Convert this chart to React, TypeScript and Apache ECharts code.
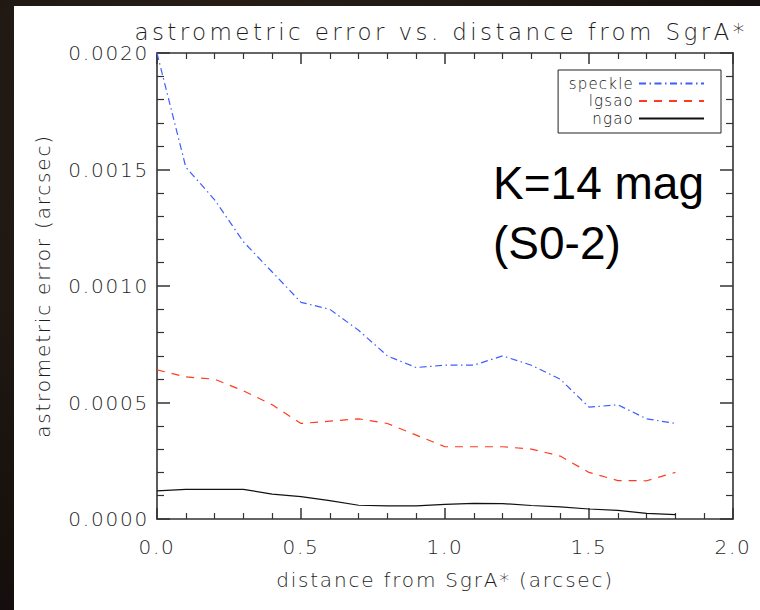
import React, { useEffect, useRef } from "react";
import * as echarts from "echarts";

// ---- data ----
const distances = [0, 0.1, 0.2, 0.3, 0.4, 0.5, 0.6, 0.7, 0.8, 0.9, 1.0, 1.1, 1.2, 1.3, 1.4, 1.5, 1.6, 1.7, 1.8];
const speckle = [0.002, 0.00151, 0.00137, 0.00119, 0.00106, 0.00093, 0.0009, 0.00081, 0.0007, 0.00065, 0.00066, 0.00066, 0.0007, 0.00066, 0.0006, 0.00048, 0.00049, 0.00043, 0.00041];
const lgsao = [0.00064, 0.00061, 0.0006, 0.00055, 0.00049, 0.00041, 0.00042, 0.00043, 0.00041, 0.00036, 0.00031, 0.00031, 0.00031, 0.0003, 0.00027, 0.0002, 0.000165, 0.000164, 0.0002];
const ngao = [0.000121, 0.000127, 0.000127, 0.000127, 0.000107, 0.000096, 0.000079, 0.000059, 0.000056, 0.000056, 0.000063, 0.000067, 0.000066, 0.000058, 0.000052, 0.000043, 0.000037, 0.000024, 0.000019];
const seriesNames = ["speckle", "lgsao", "ngao"];
const xTicks = { min: 0, max: 2, interval: 0.5 };
const yTicks = { min: 0, max: 0.002, interval: 0.0005 };
const titleText = "astrometric error vs. distance from SgrA*";
const xName = "distance from SgrA* (arcsec)";
const yName = "astrometric error (arcsec)";
const noteLines = ["K=14 mag", "(S0-2)"];

const FONT = "DejaVu Sans";
const AX = "#333333";
const TXT = "#1e1e1e";

const css = `
#astro-chart text { letter-spacing: 1.8px; }
#astro-chart text[style*="23px"] { letter-spacing: 3.4px; }
#astro-chart text[style*="15px"] { letter-spacing: 1.2px; }
#astro-chart text[style*="Liberation"] { letter-spacing: 0px; }
`;

function axisBase(extra: any) {
  return {
    type: "value",
    axisLine: { show: true, onZero: false, lineStyle: { color: AX, width: 1.6 } },
    splitLine: { show: false },
    minorSplitLine: { show: false },
    ...extra,
  };
}

export default function App() {
  const ref = useRef<HTMLDivElement>(null);
  useEffect(() => {
    if (!ref.current) return;
    const chart = echarts.init(ref.current, null, { renderer: "svg" });
    const mk = (vals: number[]) => distances.map((d, i) => [d, vals[i]]);
    const xCommon = {
      min: xTicks.min,
      max: xTicks.max,
      interval: xTicks.interval,
      axisTick: { show: true, inside: true, length: 11, lineStyle: { color: AX, width: 1.5 } },
      minorTick: { show: true, splitNumber: 5, length: 6, lineStyle: { color: AX, width: 1.2 } },
    };
    const yCommon = {
      min: yTicks.min,
      max: yTicks.max,
      interval: yTicks.interval,
      axisTick: { show: true, inside: true, length: 13, lineStyle: { color: AX, width: 1.5 } },
      minorTick: { show: true, splitNumber: 5, length: 7, lineStyle: { color: AX, width: 1.2 } },
    };
    const option: any = {
      animation: false,
      backgroundColor: "#ffffff",
      textStyle: { fontFamily: FONT },
      grid: { left: 143, top: 47, right: 27, bottom: 91, outerBoundsMode: "none" },
      xAxis: [
        axisBase({
          ...xCommon,
          position: "bottom",
          name: xName,
          nameLocation: "middle",
          nameGap: 51,
          nameTextStyle: { fontSize: 20, color: TXT, fontFamily: FONT, fontWeight: 200 },
          axisLabel: {
            fontSize: 20,
            color: TXT,
            margin: 18,
            fontFamily: FONT,
            fontWeight: 200,
            formatter: (v: number) => v.toFixed(1),
          },
        }),
        axisBase({ ...xCommon, position: "top", axisLabel: { show: false } }),
      ],
      yAxis: [
        axisBase({
          ...yCommon,
          position: "left",
          name: yName,
          nameLocation: "middle",
          nameGap: 104,
          nameTextStyle: { fontSize: 20, color: TXT, fontFamily: FONT, fontWeight: 200 },
          axisLabel: {
            fontSize: 20,
            color: TXT,
            margin: 8,
            fontFamily: FONT,
            fontWeight: 200,
            formatter: (v: number) => v.toFixed(4),
          },
        }),
        axisBase({ ...yCommon, position: "right", axisLabel: { show: false } }),
      ],
      legend: {
        orient: "vertical",
        align: "right",
        right: 39,
        top: 64,
        padding: [6, 16, 7, 19],
        itemGap: 2.5,
        itemWidth: 65,
        itemHeight: 10,
        borderColor: "#222",
        borderWidth: 1,
        borderRadius: 0,
        itemStyle: { opacity: 0 },
        textStyle: { fontSize: 15, color: "#111", fontFamily: FONT, fontWeight: 200 },
        data: seriesNames,
      },
      series: [
        {
          name: seriesNames[0],
          type: "line",
          data: mk(speckle),
          symbol: "none",
          showSymbol: false,
          lineStyle: { color: "#3f5cff", width: 1.2, type: [7, 3.5, 1.5, 3.5] },
          itemStyle: { color: "#3f5cff" },
        },
        {
          name: seriesNames[1],
          type: "line",
          data: mk(lgsao),
          symbol: "none",
          showSymbol: false,
          lineStyle: { color: "#ff3b1f", width: 1.2, type: [8, 7] },
          itemStyle: { color: "#ff3b1f" },
        },
        {
          name: seriesNames[2],
          type: "line",
          data: mk(ngao),
          symbol: "none",
          showSymbol: false,
          lineStyle: { color: "#111111", width: 1.2, type: "solid" },
          itemStyle: { color: "#111111" },
        },
      ],
      graphic: [
        {
          type: "text",
          x: 427,
          y: 26,
          silent: true,
          style: {
            text: titleText,
            fontSize: 23,
            fontFamily: FONT,
            fontWeight: 200,
            fill: TXT,
            align: "center",
            textAlign: "center",
            verticalAlign: "middle",
            textVerticalAlign: "middle",
          },
        },
        {
          type: "text",
          x: 479,
          y: 177,
          silent: true,
          style: {
            text: noteLines[0],
            fontSize: 46,
            fontFamily: "Liberation Sans",
            fill: "#000",
            align: "left",
            textAlign: "left",
            verticalAlign: "middle",
            textVerticalAlign: "middle",
          },
        },
        {
          type: "text",
          x: 479,
          y: 237,
          silent: true,
          style: {
            text: noteLines[1],
            fontSize: 46,
            fontFamily: "Liberation Sans",
            fill: "#000",
            align: "left",
            textAlign: "left",
            verticalAlign: "middle",
            textVerticalAlign: "middle",
          },
        },
      ],
    };
    chart.setOption(option);
    return () => chart.dispose();
  }, []);

  return (
    <div
      style={{
        position: "fixed",
        left: 0,
        top: 0,
        width: 760,
        height: 610,
        background: "radial-gradient(ellipse at 30% 20%, #2a2019 0%, #1a1410 55%, #0e0a08 100%)",
        overflow: "hidden",
      }}
    >
      <style>{css}</style>
      <div
        id="astro-chart"
        ref={ref}
        style={{ position: "absolute", left: 14, top: 6, width: 746, height: 604, background: "#fff" }}
      />
    </div>
  );
}
